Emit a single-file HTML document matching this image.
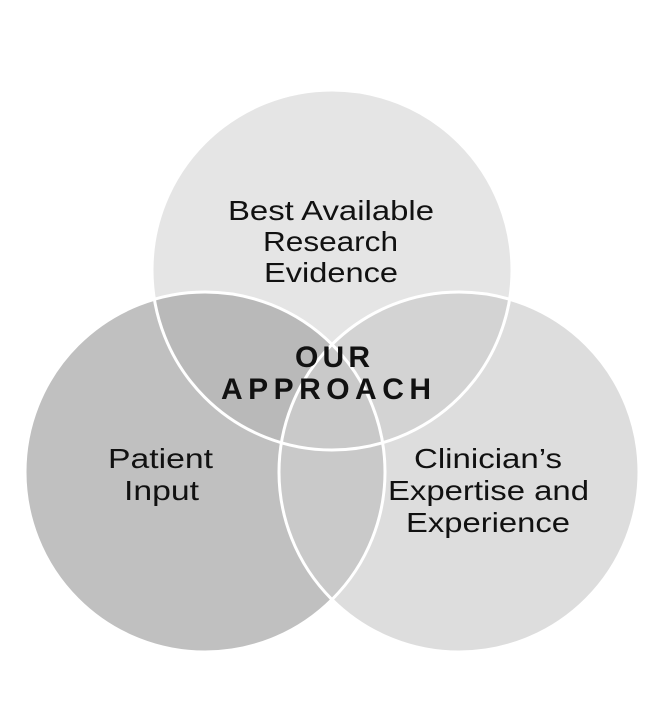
<html><body style="margin:0;background:#fff">
<svg width="665" height="701" xmlns="http://www.w3.org/2000/svg">
<defs>
<clipPath id="cT"><circle cx="332" cy="270" r="180"/></clipPath>
<clipPath id="cL"><circle cx="205" cy="472" r="180"/></clipPath>
</defs>
<circle cx="205" cy="472" r="180" fill="#c0c0c0"/>
<circle cx="459" cy="472" r="180" fill="#dddddd"/>
<circle cx="332" cy="270" r="180" fill="#e5e5e5"/>
<g clip-path="url(#cT)"><circle cx="205" cy="472" r="180" fill="#b9b9b9"/><circle cx="459" cy="472" r="180" fill="#d3d3d3"/></g>
<g clip-path="url(#cL)"><circle cx="459" cy="472" r="180" fill="#c9c9c9"/></g>
<g fill="none" stroke="#fff" stroke-width="3">
<circle cx="205" cy="472" r="180"/><circle cx="459" cy="472" r="180"/><circle cx="332" cy="270" r="180"/>
</g>
<g font-family="Liberation Sans, sans-serif" font-size="28" fill="#111">
<text x="228" y="220" textLength="206" lengthAdjust="spacingAndGlyphs">Best Available</text>
<text x="263" y="251" textLength="135" lengthAdjust="spacingAndGlyphs">Research</text>
<text x="264" y="282" textLength="134" lengthAdjust="spacingAndGlyphs">Evidence</text>
<text x="108" y="468" textLength="105" lengthAdjust="spacingAndGlyphs">Patient</text>
<text x="124" y="500" textLength="75" lengthAdjust="spacingAndGlyphs">Input</text>
<text x="414" y="468" textLength="148" lengthAdjust="spacingAndGlyphs">Clinician’s</text>
<text x="388" y="500" textLength="201" lengthAdjust="spacingAndGlyphs">Expertise and</text>
<text x="406" y="532" textLength="164" lengthAdjust="spacingAndGlyphs">Experience</text>
<g font-weight="bold" font-size="30">
<text x="295" y="367" textLength="75" lengthAdjust="spacing">OUR</text>
<text x="221" y="399" textLength="210" lengthAdjust="spacing">APPROACH</text>
</g>
</g>
</svg>
</body></html>
